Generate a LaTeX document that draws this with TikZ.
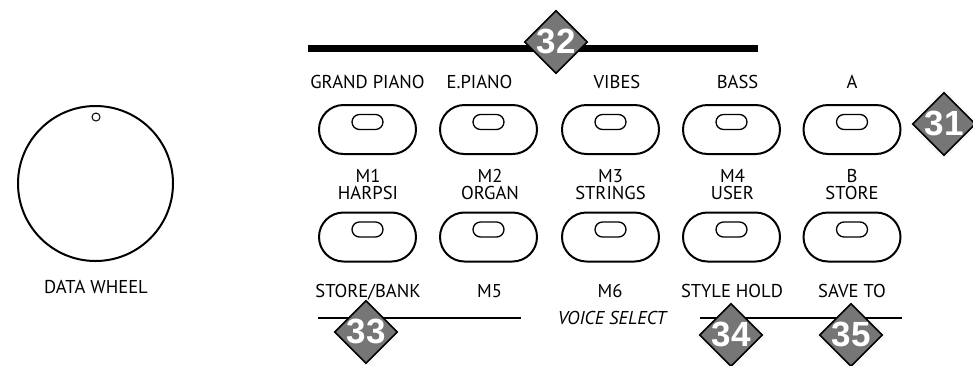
\documentclass[tikz,border=0pt]{standalone}
\usepackage{fontspec}
\setmainfont{PT Sans}
\newfontfamily\numfont{Liberation Sans}
\usetikzlibrary{shapes.geometric,shapes.misc}
\definecolor{badgegray}{RGB}{118,118,118}
\tikzset{
  lbl/.style={anchor=base,inner sep=0pt,font=\fontsize{18.6}{16}\selectfont},
  btn/.style={draw,line width=2pt,rounded rectangle,minimum width=97pt,minimum height=49pt,inner sep=0pt},
  led/.style={draw,line width=1.3pt,rounded rectangle,minimum width=31pt,minimum height=15pt,inner sep=0pt},
  badge/.style={diamond,draw=black,line width=1.6pt,fill=badgegray,minimum width=63pt,minimum height=63pt,inner sep=0pt,aspect=1},
  num/.style={text=white,inner sep=0pt,font=\numfont\bfseries\fontsize{35}{35}\selectfont},
}
\begin{document}
\begin{tikzpicture}[x=1pt,y=-1pt]
\useasboundingbox (0,0) rectangle (973,365);
% data wheel
\node[circle,draw,line width=2pt,minimum size=155pt,inner sep=0pt] (wheel) at (95.5,183.5) {};
\node[circle,draw,line width=1pt,minimum size=8pt,inner sep=0pt] (dot) at (96,117) {};
\node[lbl] (wl) at (96,293) {DATA WHEEL};
% lines
\coordinate (t1) at (308,48); \coordinate (t2) at (758,48);
\draw[line width=7pt] (t1) -- (t2);
\coordinate (l1) at (318,318); \coordinate (l2) at (521,318);
\coordinate (r1) at (700,318); \coordinate (r2) at (902,318);
\draw[line width=2pt] (l1) -- (l2);
\draw[line width=2pt] (r1) -- (r2);
% buttons
\foreach \x [count=\i] in {367.5,488.5,610.5,731.5,852}{
  \node[btn] (ba\i) at (\x,129.5) {};
  \node[led] (la\i) at (\x,122) {};
  \node[btn] (bb\i) at (\x,237) {};
  \node[led] (lb\i) at (\x,229.5) {};
}
% row 1 labels
\node[lbl] (a1) at (367.5,88) {GRAND PIANO};
\node[lbl] (a2) at (479.5,88) {E.PIANO};
\node[lbl] (a3) at (617,88) {VIBES};
\node[lbl] (a4) at (737.5,88) {BASS};
\node[lbl] (a5) at (852,88) {A};
% row 2 labels
\node[lbl] (m1) at (368,182) {M1};
\node[lbl] (h1) at (368,199) {HARPSI};
\node[lbl] (m2) at (490,182) {M2};
\node[lbl] (h2) at (490,199) {ORGAN};
\node[lbl] (m3) at (610.5,182) {M3};
\node[lbl] (h3) at (610.5,199) {STRINGS};
\node[lbl] (m4) at (732.5,182) {M4};
\node[lbl] (h4) at (732.5,199) {USER};
\node[lbl] (m5) at (852,182) {B};
\node[lbl] (h5) at (852,199) {STORE};
% row 3 labels
\node[lbl] (c1) at (368,297) {STORE/BANK};
\node[lbl] (c2) at (489.5,297) {M5};
\node[lbl] (c3) at (610,297) {M6};
\node[lbl] (c4) at (732,297) {STYLE HOLD};
\node[lbl] (c5) at (852,297) {SAVE TO};
\node[lbl,font=\fontsize{18.6}{16}\selectfont\itshape] (vs) at (612,324) {VOICE SELECT};
% badges
\node[badge] (d32) at (556,42) {};
\node[num] (n32) at (556,41) {32};
\node[badge] (d31) at (944,124) {};
\node[num] (n31) at (944,123) {31};
\node[badge] (d33) at (366,332) {};
\node[num] (n33) at (366,331) {33};
\node[badge] (d34) at (731,335) {};
\node[num] (n34) at (731,334) {34};
\node[badge] (d35) at (851,335) {};
\node[num] (n35) at (851,334) {35};
\end{tikzpicture}
\end{document}
